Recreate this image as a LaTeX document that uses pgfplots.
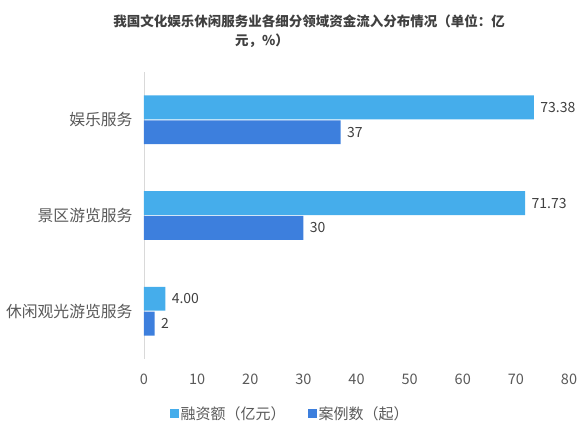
\documentclass[border=0pt]{standalone}
\usepackage{fontspec}
\setmainfont{Noto Sans CJK SC}
\usepackage{pgfplots}
\pgfplotsset{compat=1.18}
\pgfplotsset{/pgf/number format/assume math mode=true}
\definecolor{lightbar}{HTML}{45ADEB}
\definecolor{darkbar}{HTML}{3D7FDD}
\definecolor{txt}{HTML}{595959}
\definecolor{ttl}{HTML}{404040}
\begin{document}
\begin{tikzpicture}
\useasboundingbox (0,0) rectangle (581pt,427pt);
\node[font=\fontsize{13.5}{16}\selectfont\bfseries, text=ttl] at (309pt,406pt) {我国文化娱乐休闲服务业各细分领域资金流入分布情况（单位：亿};
\node[font=\fontsize{13.5}{16}\selectfont\bfseries, text=ttl] at (262pt,386pt) {元，\%）};
\begin{axis}[
  at={(144pt,68pt)}, anchor=south west,
  scale only axis, width=425pt, height=287pt,
  xbar, bar width=0.25,
  xmin=0, xmax=80, ymin=-0.5, ymax=2.5,
  xtick={0,10,...,80},
  ytick={0,1,2},
  yticklabels={休闲观光游览服务,景区游览服务,娱乐服务},
  axis lines*=left,
  x axis line style={draw=none},
  y axis line style={draw=black!15, line width=0.8pt, -},
  major tick length=0pt,
  xticklabel style={font=\fontsize{14.5}{16}\selectfont, text=txt, yshift=-11pt},
  yticklabel style={font=\fontsize{15.8}{18}\selectfont, text=txt, xshift=-8pt},
  nodes near coords,
  every node near coord/.append style={font=\fontsize{14}{16}\selectfont, text=ttl, xshift=3pt},
  legend style={at={(0.344,-0.19)}, anchor=center, draw=none, legend columns=2,
    font=\fontsize{15}{18}\selectfont, text=txt,
    /tikz/every even column/.append style={column sep=20pt}},
  legend image code/.code={\fill[#1] (0pt,-4.5pt) rectangle (9pt,4.5pt);},
]
\addplot[draw=none, fill=lightbar, bar shift=0.13,
  nodes near coords={\pgfmathprintnumber[fixed,zerofill,precision=2]{\pgfplotspointmeta}}]
  coordinates {(4.00,0) (71.73,1) (73.38,2)};
\addplot[draw=none, fill=darkbar, bar shift=-0.13]
  coordinates {(2,0) (30,1) (37,2)};
\legend{融资额（亿元）,案例数（起）}
\end{axis}
\end{tikzpicture}
\end{document}
